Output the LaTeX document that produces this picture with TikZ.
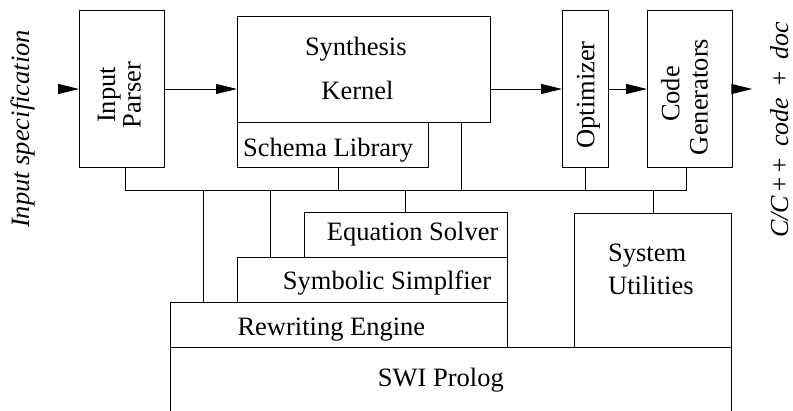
\documentclass[tikz,border=0pt]{standalone}
\usepackage{fontspec}
\setmainfont{Liberation Serif}
\usetikzlibrary{arrows.meta}
\begin{document}
\begin{tikzpicture}[x=1pt,y=-1pt,
  every node/.style={font=\fontsize{26.5}{30}\selectfont, inner sep=0pt},
  box/.style={draw, line width=0.9pt, anchor=north west},
  wire/.style={line width=0.9pt},
  flow/.style={line width=0.9pt, -{Triangle[length=21pt,width=10pt]}},
  tag/.style={anchor=base},
  vtag/.style={anchor=base, rotate=90},
]
\useasboundingbox (0,0) rectangle (793,411);

% --- upper row: the synthesis pipeline ---
\node[box, minimum width=85pt,   minimum height=157pt] (parser)  at (79,10)   {};
\node[box, minimum width=253pt,  minimum height=106pt] (kernel)  at (237,16)  {};
\node[box, minimum width=191pt,  minimum height=45pt]  (schema)  at (237,122) {};
\node[box, minimum width=45.5pt, minimum height=157pt] (opt)     at (562,10)  {};
\node[box, minimum width=85pt,   minimum height=157pt] (codegen) at (647,10)  {};

% --- lower block: support layers ---
\node[box, minimum width=202.4pt, minimum height=45pt]   (eqn)  at (304.3,212.3) {};
\node[box, minimum width=269.4pt, minimum height=45pt]   (symb) at (237.3,257.3) {};
\node[box, minimum width=336.7pt, minimum height=44.5pt] (rewr) at (170,302.3)   {};
\node[box, minimum width=157pt,   minimum height=134.3pt](sys)  at (574,212.7)   {};
\node[anchor=north west, minimum width=561pt, minimum height=64pt] (swi) at (170,347) {};
\draw[wire] (swi.south west) -- (swi.north west) -- (swi.north east) -- (swi.south east);

% --- labels ---
\node[vtag] (parserA) at (115,95)   {Input};
\node[vtag] (parserB) at (140.5,95) {Parser};
\node[tag]  (kernelA) at (355.8,56) {Synthesis};
\node[tag]  (kernelB) at (357.5,100) {Kernel};
\node[tag, anchor=base west] (schemaT) at (243,156.7) {Schema Library};
\node[vtag] (optT)  at (594.4,95) {Optimizer};
\node[vtag] (codeA) at (679.4,94) {Code};
\node[vtag] (codeB) at (707.7,97) {Generators};
\node[anchor=base west] (eqnT)  at (326.7,240.7) {Equation Solver};
\node[anchor=base west] (symbT) at (282.7,290)   {Symbolic Simplfier};
\node[anchor=base west] (rewrT) at (237.3,335.7) {Rewriting Engine};
\node[anchor=base west] (swiT)  at (377.7,386.7) {SWI Prolog};
\node[anchor=base west] (sysA)  at (608,261.7)   {System};
\node[anchor=base west] (sysB)  at (608,294.3)   {Utilities};

\node[vtag, font=\fontsize{26.5}{30}\selectfont\itshape] (inspec) at (29,129) {Input specification};
\node[vtag, font=\fontsize{26}{30}\selectfont\itshape] (outspec) at (788,130)
  {C/C\kern2pt+\kern2pt+\hspace{10pt}code\hspace{10pt}+\hspace{10pt}doc};

% --- data flow ---
\coordinate (inlet)  at (58,89);
\coordinate (outlet) at (752.3,89);
\draw[flow] (inlet) -- (inlet -| parser.west);
\draw[flow] (parser.east |- inlet) -- (kernel.west |- inlet);
\draw[flow] (kernel.east |- inlet) -- (opt.west |- inlet);
\draw[flow] (opt.east |- inlet) -- (codegen.west |- inlet);
\draw[flow] (codegen.east |- inlet) -- (outlet);

% --- shared bus linking the modules to the support layers ---
\coordinate (bP) at (125,190);
\coordinate (bR) at (203.3,190);
\coordinate (bY) at (270.7,190);
\coordinate (bS) at (338,190);
\coordinate (bE) at (405.7,190);
\coordinate (bK) at (461.7,190);
\coordinate (bO) at (585.7,190);
\coordinate (bU) at (653.3,190);
\coordinate (bC) at (686.7,190);
\draw[wire] (bP) -- (bC);
\draw[wire] (bP |- parser.south) -- (bP);
\draw[wire] (bS |- schema.south) -- (bS);
\draw[wire] (bK |- kernel.south) -- (bK);
\draw[wire] (bO |- opt.south) -- (bO);
\draw[wire] (bC |- codegen.south) -- (bC);
\draw[wire] (bR) -- (bR |- rewr.north);
\draw[wire] (bY) -- (bY |- symb.north);
\draw[wire] (bE) -- (bE |- eqn.north);
\draw[wire] (bU) -- (bU |- sys.north);
\end{tikzpicture}
\end{document}
